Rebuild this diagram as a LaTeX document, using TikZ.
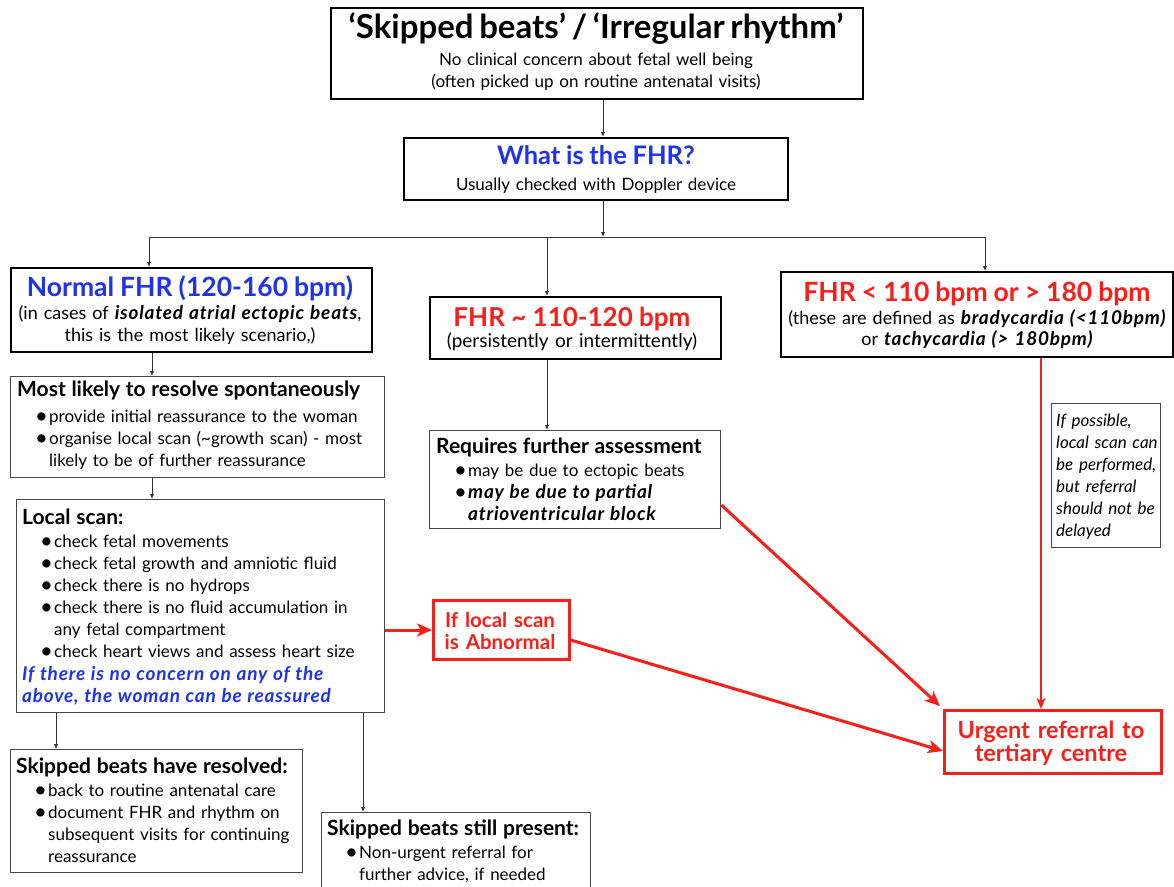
\documentclass[tikz,border=0pt]{standalone}
\usepackage{fontspec}
\setmainfont{Lato}
\usetikzlibrary{arrows.meta,calc}
\definecolor{fblue}{RGB}{30,50,240}
\definecolor{fred}{RGB}{250,30,25}
\newcommand\fb{\fontsize{17}{22}\selectfont}
\newcommand\fh{\fontsize{21}{22}\selectfont\bfseries}
\newcommand\bi[1]{{\fontsize{19}{22}\selectfont\bfseries\itshape\addfontfeatures{LetterSpace=4}#1}}
\newcommand\bdot{\raisebox{-1.6pt}{\scalebox{1.3}{\textbullet}}}
\newcommand\itm[1]{\par\noindent\hangindent=32pt\hangafter=1\hspace*{18pt}\makebox[14pt][l]{\bdot}#1}
\tikzset{
  tbox/.style={draw=black, line width=2.3pt, inner sep=0pt, anchor=north west},
  sbox/.style={draw=black!72, line width=1.3pt, inner sep=0pt, anchor=north west},
  rbox/.style={draw=fred, line width=2.6pt, inner sep=0pt, anchor=north west},
  ctext/.style={inner sep=0pt, text width=600pt, align=center, anchor=base, font=\fb},
  ltext/.style={inner sep=0pt, text width=420pt, align=left, anchor=base west, font=\fb},
  ln/.style={draw=black!80, line width=1pt},
  arr/.style={ln, -{Latex[length=5pt,width=4.5pt]}},
  rarr/.style={draw=fred, line width=3pt, -{Stealth[length=15pt,width=13pt,inset=4pt]}},
  rarrv/.style={draw=fred, line width=2pt, -{Stealth[length=11pt,width=9pt,inset=3pt]}},
}
\begin{document}
\begin{tikzpicture}[x=1pt,y=-1pt]
\useasboundingbox (0,0) rectangle (1174,886);
\fill[white] (0,0) rectangle (1174,886);

% boxes
\node[tbox, minimum width=532pt, minimum height=91pt] (top) at (330,7) {};
\node[tbox, minimum width=384pt, minimum height=62pt] (fhr) at (403,137) {};
\node[tbox, minimum width=361pt, minimum height=84pt] (normal) at (10,267) {};
\node[tbox, minimum width=291pt, minimum height=62pt] (fhrmid) at (429,296) {};
\node[tbox, minimum width=392pt, minimum height=85pt] (fhrext) at (780,271) {};
\node[sbox, minimum width=374pt, minimum height=101pt] (ml) at (10,376) {};
\node[sbox, minimum width=291pt, minimum height=98pt] (req) at (429,430) {};
\node[sbox, minimum width=109pt, minimum height=144pt] (note) at (1051,403) {};
\node[sbox, minimum width=368pt, minimum height=213pt] (local) at (16,499) {};
\node[rbox, minimum width=136pt, minimum height=59pt] (ifb) at (432,599) {};
\node[rbox, line width=3.3pt, minimum width=217pt, minimum height=63pt] (urg) at (943,709) {};
\node[sbox, minimum width=292pt, minimum height=123pt] (res) at (10,749) {};
\node[sbox, minimum width=269pt, minimum height=100pt] (still) at (321,812) {};

% centred texts
\node[ctext] (topT) at (596,38) {{\fontsize{33}{30}\selectfont\bfseries ‘Skipped beats’ / ‘Irregular rhythm’}\par\vspace{5pt}No clinical concern about fetal well being\\(often picked up on routine antenatal visits)};
\node[ctext] (fhrT) at (596,164) {{\fontsize{25.5}{24}\selectfont\bfseries\color{fblue}What is the FHR?}\par\vspace{4pt}Usually checked with Doppler device};
\node[ctext, font=\fontsize{18}{21.5}\selectfont] (normalT) at (190,296) {{\fontsize{26.5}{26}\selectfont\bfseries\color{fblue}Normal FHR (120-160 bpm)}\par\vspace{2pt}(in cases of \bi{isolated atrial ectopic beats},\\this is the most likely scenario,)};
\node[ctext, font=\fontsize{19}{21}\selectfont] (fhrmidT) at (572,326) {{\fontsize{26}{26}\selectfont\bfseries\color{fred}FHR \textasciitilde{} 110-120 bpm}\par\vspace{0pt}(persistently or intermittently)};
\node[ctext, font=\fontsize{18}{21}\selectfont] (fhrextT) at (977,301) {{\fontsize{26.5}{26}\selectfont\bfseries\color{fred}FHR < 110 bpm or > 180 bpm}\par\vspace{2pt}(these are defined as \bi{bradycardia (<110bpm)}\\or \bi{tachycardia (> 180bpm)}};
\node[ctext, font=\fontsize{20.5}{22}\selectfont\bfseries, text=fred] (ifbT) at (500,627) {If local scan\\is Abnormal};
\node[ctext, font=\fontsize{23.5}{23}\selectfont\bfseries, text=fred] (urgT) at (1051,738) {Urgent referral to\\tertiary centre};

% list texts
\node[ltext] (mlT) at (17,396) {{\fh Most likely to resolve spontaneously}\par\vspace{4pt}%
\itm{provide initial reassurance to the woman}%
\itm{organise local scan (\textasciitilde growth scan) - most\newline likely to be of further reassurance}\par};
\node[ltext] (reqT) at (436,453) {{\fh Requires further assessment}\par\vspace{1pt}%
\itm{may be due to ectopic beats}%
\itm{\bi{may be due to partial\newline atrioventricular block}}\par};
\node[ltext, text width=150pt, font=\fb\itshape] (noteT) at (1056,426) {If possible,\\local scan can\\be performed,\\but referral\\should not be\\delayed};
\node[ltext] (localT) at (22,524) {{\fh Local scan:}\par\vspace{1pt}%
\itm{check fetal movements}%
\itm{check fetal growth and amniotic fluid}%
\itm{check there is no hydrops}%
\itm{check there is no fluid accumulation in\newline any fetal compartment}%
\itm{check heart views and assess heart size}%
\par\vspace{1pt}\noindent{\color{fblue}\bi{If there is no concern on any of the\newline above, the woman can be reassured}}\par};
\node[ltext] (resT) at (16,773) {{\fh Skipped beats have resolved:}\par\vspace{1pt}%
\itm{back to routine antenatal care}%
\itm{document FHR and rhythm on\newline subsequent visits for continuing\newline reassurance}\par};
\node[ltext] (stillT) at (327,835) {{\fh Skipped beats still present:}\par\vspace{1pt}%
\itm{Non-urgent referral for\newline further advice, if needed}\par};

% connectors
\coordinate (j0) at (603,237);
\coordinate (jL) at (149,237);
\coordinate (jM) at (547,237);
\coordinate (jR) at (985,237);
\coordinate (cA) at (152,0);
\coordinate (cB) at (56,0);
\coordinate (cC) at (363,0);
\coordinate (cD) at (0,630);
\coordinate (cE) at (0,640);
\coordinate (cF) at (0,751);
\coordinate (cG) at (0,505);
\coordinate (cH) at (1041,0);

\draw[arr] (top.south -| j0) -- (fhr.north -| j0);
\draw[arr] (fhr.south -| j0) -- (j0);
\draw[ln] (jL) -- (jR);
\draw[arr] (jL) -- (normal.north -| jL);
\draw[arr] (jM) -- (fhrmid.north -| jM);
\draw[arr] (jR) -- (fhrext.north -| jR);
\draw[arr] (normal.south -| cA) -- (ml.north -| cA);
\draw[arr] (ml.south -| cA) -- (local.north -| cA);
\draw[arr] (fhrmid.south -| jM) -- (req.north -| jM);
\draw[arr] (local.south -| cB) -- (res.north -| cB);
\draw[arr] (local.south -| cC) -- (still.north -| cC);

\draw[rarr] (local.east |- cD) -- (ifb.west |- cD);
\draw[rarr] (ifb.east |- cE) -- (urg.west |- cF);
\draw[rarr] (req.east |- cG) -- ($(urg.north west)+(-3,-3)$);
\draw[rarrv] (fhrext.south -| cH) -- (urg.north -| cH);
\end{tikzpicture}
\end{document}
